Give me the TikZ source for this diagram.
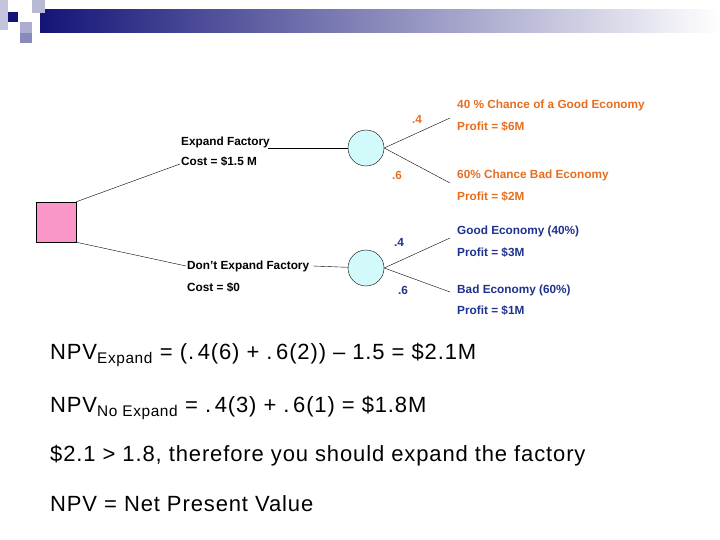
\documentclass[tikz,border=0pt]{standalone}
\usepackage{fontspec}
\setmainfont{Liberation Sans}
\newfontfamily\widefont[LetterSpace=4]{Liberation Sans}
\begin{document}
\begin{tikzpicture}[x=1pt,y=-1pt,
  sm/.style={font=\fontsize{11.8}{13}\selectfont\bfseries,anchor=west,inner sep=0},
  org/.style={sm,text={rgb,255:red,230;green,110;blue,30}},
  blu/.style={sm,text={rgb,255:red,30;green,50;blue,140}},
  chance/.style={circle,draw,fill={rgb,255:red,210;green,250;blue,250},minimum size=36pt,inner sep=0},
  big/.style={font=\widefont\fontsize{22}{26}\selectfont,anchor=west,inner sep=0}]
\definecolor{navy}{RGB}{20,20,120}
\useasboundingbox (0,0) rectangle (720,540);
\shade[left color=navy,right color=white] (40,10) rectangle (720,33);
\fill[navy!25] (0,0) rectangle (8,30);
\fill[navy!30] (32,0) rectangle (45,13);
\fill[navy] (8,12) rectangle (18,22);
\fill[navy!35] (20,22) rectangle (32,33);
\fill[navy!50] (20,33) rectangle (32,43);
\node[draw,fill={rgb,255:red,250;green,150;blue,200},minimum size=40pt,inner sep=0] (sq) at (56,222) {};
\node[chance] (c1) at (366,148) {};
\node[chance] (c2) at (366,268) {};
\coordinate (a1) at (180,164);
\coordinate (a2) at (268,148);
\coordinate (b1) at (186,266);
\coordinate (b2) at (313,266);
\draw (sq.north east) -- (a1);
\draw (a2) -- (c1);
\draw (sq.south east) -- (b1);
\draw (b2) -- (c2);
\coordinate (e1) at (450,118); \coordinate (e2) at (450,183);
\coordinate (e3) at (450,238); \coordinate (e4) at (450,292);
\draw (c1.east) -- (e1); \draw (c1.east) -- (e2);
\draw (c2.east) -- (e3); \draw (c2.east) -- (e4);
\node[sm] (t1) at (181,142) {Expand Factory};
\node[sm] (t2) at (181,162) {Cost = \$1.5 M};
\node[sm] (t3) at (187,266) {Don’t Expand Factory};
\node[sm] (t4) at (187,288) {Cost = \$0};
\node[org] (p1) at (412,119) {.4};
\node[org] (p2) at (392,175) {.6};
\node[blu] (p3) at (394,242) {.4};
\node[blu] (p4) at (398,290) {.6};
\node[org] (o1) at (457,105) {40 \% Chance of a Good Economy};
\node[org] (o2) at (457,127) {Profit = \$6M};
\node[org] (o3) at (457,175) {60\% Chance Bad Economy};
\node[org] (o4) at (457,197) {Profit = \$2M};
\node[blu] (b5) at (457,231) {Good Economy (40\%)};
\node[blu] (b6) at (457,253) {Profit = \$3M};
\node[blu] (b7) at (457,290) {Bad Economy (60\%)};
\node[blu] (b8) at (457,311) {Profit = \$1M};
\node[big] (n1) at (50,355) {NPV\textsubscript{Expand} = (.\,4(6) + .\,6(2)) – 1.5 = \$2.1M};
\node[big] (n2) at (50,408) {NPV\textsubscript{No Expand} = .\,4(3) + .\,6(1) = \$1.8M};
\node[big] (n3) at (50,456) {\$2.1 > 1.8, therefore you should expand the factory};
\node[big] (n4) at (50,504) {NPV = Net Present Value};
\end{tikzpicture}
\end{document}
